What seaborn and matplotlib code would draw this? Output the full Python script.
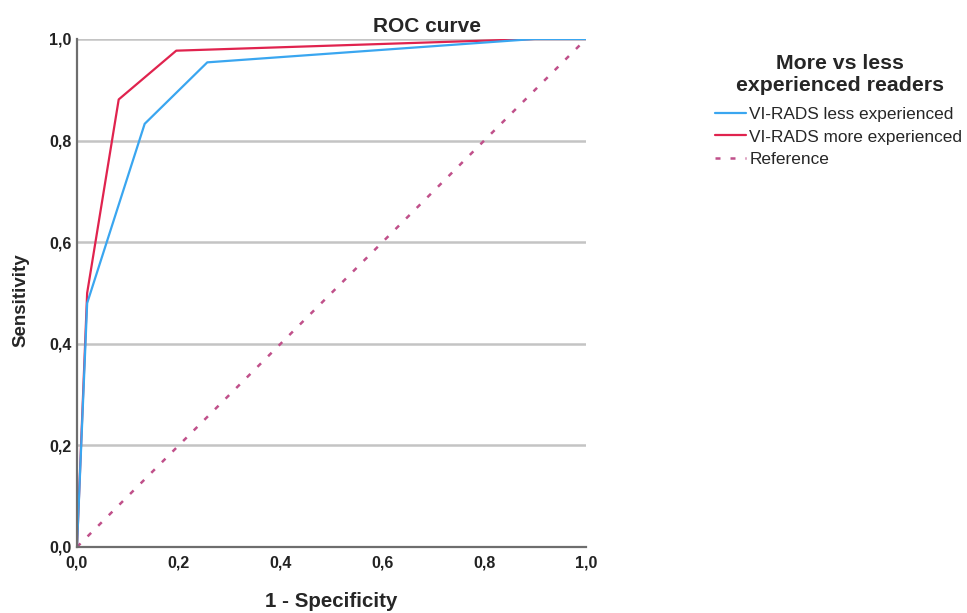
import matplotlib
matplotlib.use("Agg")
import matplotlib.pyplot as plt
import seaborn as sns
import pandas as pd
from matplotlib.lines import Line2D
from matplotlib.ticker import FuncFormatter

less_x = [0.0, 0.02, 0.133, 0.256, 0.898, 1.0]
less_y = [0.0, 0.48, 0.833, 0.954, 1.0, 1.0]
more_x = [0.0, 0.02, 0.082, 0.195, 0.90, 1.0]
more_y = [0.0, 0.50, 0.881, 0.977, 1.0, 1.0]
ref_x = [0.0, 1.0]
ref_y = [0.0, 1.0]
labels = ["VI-RADS less experienced", "VI-RADS more experienced", "Reference"]
ticks = [0.0, 0.2, 0.4, 0.6, 0.8, 1.0]

sns.set_style("white")
plt.rcParams['font.family'] = ['Liberation Sans', 'DejaVu Sans']

fig = plt.figure(figsize=(9.67, 6.13), dpi=100)
ax = fig.add_axes([0.0796, 0.1077, 0.5264, 0.8287])

df_less = pd.DataFrame({"x": less_x, "y": less_y})
df_more = pd.DataFrame({"x": more_x, "y": more_y})
df_ref = pd.DataFrame({"x": ref_x, "y": ref_y})

c_less = "#3aa6f0"
c_more = "#e0234e"
c_ref = "#c0508a"

for t in ticks[1:]:
    ax.axhline(t, color="#c4c4c4", lw=1.8, zorder=0)

sns.lineplot(data=df_ref, x="x", y="y", ax=ax, color=c_ref, lw=1.8,
             linestyle=(0, (2, 4)), sort=False, estimator=None)
sns.lineplot(data=df_more, x="x", y="y", ax=ax, color=c_more, lw=1.6,
             sort=False, estimator=None)
sns.lineplot(data=df_less, x="x", y="y", ax=ax, color=c_less, lw=1.6,
             sort=False, estimator=None)

ax.set_xlim(0, 1.0)
ax.set_ylim(0, 1.0)
ax.set_xticks(ticks)
ax.set_yticks(ticks)
fmt = FuncFormatter(lambda v, p: f"{v:.1f}".replace(".", ","))
ax.xaxis.set_major_formatter(fmt)
ax.yaxis.set_major_formatter(fmt)
ax.tick_params(axis="x", length=0, labelsize=11.5, pad=6)
ax.tick_params(axis="y", length=0, labelsize=11.5, pad=4)
for lab in ax.get_xticklabels() + ax.get_yticklabels():
    lab.set_fontweight("bold")
    lab.set_color("#222222")
ax.set_xlabel("")
ax.set_ylabel("")
for s in ["top", "right"]:
    ax.spines[s].set_visible(False)
for s in ["left", "bottom"]:
    ax.spines[s].set_color("#6e6e6e")
    ax.spines[s].set_linewidth(1.6)

fig.text(0.442, 0.957, "ROC curve", ha="center", va="center",
         fontsize=15, fontweight="bold")
fig.text(0.022, 0.51, "Sensitivity", rotation=90, ha="center", va="center",
         fontsize=13.5, fontweight="bold")
fig.text(0.342, 0.018, "1 - Specificity", ha="center", va="center",
         fontsize=14.8, fontweight="bold")
fig.text(0.869, 0.878, "More vs less\nexperienced readers", ha="center",
         va="center", fontsize=15.3, fontweight="bold", linespacing=1.2)

handles = [Line2D([0], [0], color=c_less, lw=1.6),
           Line2D([0], [0], color=c_more, lw=1.6),
           Line2D([0], [0], color=c_ref, lw=1.8, linestyle=(0, (2, 4)))]
fig.legend(handles, labels, loc="upper left", bbox_to_anchor=(0.739, 0.826),
           frameon=False, fontsize=12.4, handlelength=1.85, handletextpad=0.17,
           labelspacing=0.45, borderaxespad=0, borderpad=0)

fig.savefig("out.png", dpi=100)
